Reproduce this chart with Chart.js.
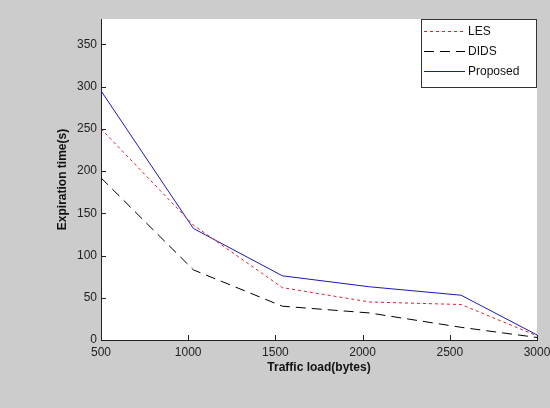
<!DOCTYPE html>
<html>
<head>
<meta charset="utf-8">
<script src="https://cdn.jsdelivr.net/npm/chart.js@4.4.0/dist/chart.umd.min.js"></script>
<style>
  html, body { margin: 0; padding: 0; background: #cccccc; }
  canvas { display: block; }
</style>
</head>
<body>
<canvas id="myChart" width="550" height="408"></canvas>
<script>
// data
const traffic = [500, 1030, 1540, 2040, 2565, 3000];
const les = [250, 136, 62, 45, 42, 5];
const dids = [192, 83, 40, 32, 15, 3];
const proposed = [295, 132, 76, 63, 53, 6];

const xTicks = [500, 1000, 1500, 2000, 2500, 3000];
const yTicks = [0, 50, 100, 150, 200, 250, 300, 350];

const pts = (ys) => traffic.map((x, i) => ({x: x, y: ys[i]}));

// gray figure, white axes box, inner ticks, legend box
const matlabLook = {
  id: 'matlabLook',
  beforeDraw(chart) {
    const {ctx, chartArea: a} = chart;
    ctx.save();
    ctx.fillStyle = '#cccccc';
    ctx.fillRect(0, 0, chart.width, chart.height);
    ctx.fillStyle = '#ffffff';
    ctx.fillRect(a.left, a.top, a.right - a.left, a.bottom - a.top);
    ctx.restore();
  },
  afterDraw(chart) {
    const {ctx, chartArea: a, scales} = chart;
    ctx.save();
    ctx.strokeStyle = '#222';
    ctx.lineWidth = 1;
    ctx.beginPath();
    xTicks.forEach(v => {
      const x = Math.round(scales.x.getPixelForValue(v)) + 0.5;
      ctx.moveTo(x, a.bottom);
      ctx.lineTo(x, a.bottom - 5);
    });
    yTicks.forEach(v => {
      const y = Math.round(scales.y.getPixelForValue(v)) + 0.5;
      ctx.moveTo(a.left, y);
      ctx.lineTo(a.left + 5, y);
    });
    ctx.stroke();

    // legend
    const bx = 421.5, by = 19.5, bw = 115, bh = 68;
    ctx.fillStyle = '#fff';
    ctx.fillRect(bx, by, bw, bh);
    ctx.strokeStyle = '#333';
    ctx.strokeRect(bx, by, bw, bh);
    ctx.font = '12px "Liberation Sans", Arial, sans-serif';
    ctx.textBaseline = 'middle';
    chart.data.datasets.forEach((ds, i) => {
      const y = 31.5 + i * 20;
      ctx.strokeStyle = ds.borderColor;
      ctx.setLineDash(ds.borderDash || []);
      ctx.beginPath();
      ctx.moveTo(424, y);
      ctx.lineTo(465, y);
      ctx.stroke();
      ctx.setLineDash([]);
      ctx.fillStyle = '#111';
      ctx.fillText(ds.label, 468, y);
    });
    ctx.restore();
  }
};

const chartData = {
  datasets: [{
    label: 'LES',
    data: pts(les),
    borderColor: '#e0202a',
    borderDash: [3, 3],
    borderWidth: 1,
    pointRadius: 0,
    tension: 0
  }, {
    label: 'DIDS',
    data: pts(dids),
    borderColor: '#000000',
    borderDash: [10, 6],
    borderWidth: 1,
    pointRadius: 0,
    tension: 0
  }, {
    label: 'Proposed',
    data: pts(proposed),
    borderColor: '#1a1ab8',
    borderWidth: 1,
    pointRadius: 0,
    tension: 0
  }]
};

const tickFont = {family: '"Liberation Sans", Arial, sans-serif', size: 12};
const titleFont = {family: '"Liberation Sans", Arial, sans-serif', size: 12, weight: 'bold'};

const config = {
  type: 'line',
  data: chartData,
  options: {
    responsive: false,
    animation: false,
    layout: {padding: {top: 19, right: 0, left: 0, bottom: 0}},
    plugins: {legend: {display: false}, tooltip: {enabled: false}},
    scales: {
      x: {
        type: 'linear',
        min: 500,
        max: 3000,
        afterBuildTicks: (s) => { s.ticks = xTicks.map(v => ({value: v})); },
        afterFit: (s) => { s.height = 68; s.paddingRight = 13; s.paddingLeft = 0; },
        ticks: {color: '#222', font: tickFont, padding: 5, maxRotation: 0, callback: (v) => String(v)},
        grid: {drawOnChartArea: false, drawTicks: false},
        border: {display: true, color: '#222', width: 1},
        title: {display: true, text: 'Traffic load(bytes)', color: '#111', font: titleFont, padding: {top: 0, bottom: 33}}
      },
      y: {
        min: 0,
        max: 380,
        afterBuildTicks: (s) => { s.ticks = yTicks.map(v => ({value: v})); },
        afterFit: (s) => { s.width = 101; },
        ticks: {color: '#222', font: tickFont, padding: 4},
        grid: {drawOnChartArea: false, drawTicks: false},
        border: {display: true, color: '#222', width: 1},
        title: {display: true, text: 'Expiration time(s)', color: '#111', font: titleFont, padding: {top: 55, bottom: 0}}
      }
    }
  },
  plugins: [matlabLook]
};

const myChart = new Chart(document.getElementById('myChart'), config);
</script>
</body>
</html>
